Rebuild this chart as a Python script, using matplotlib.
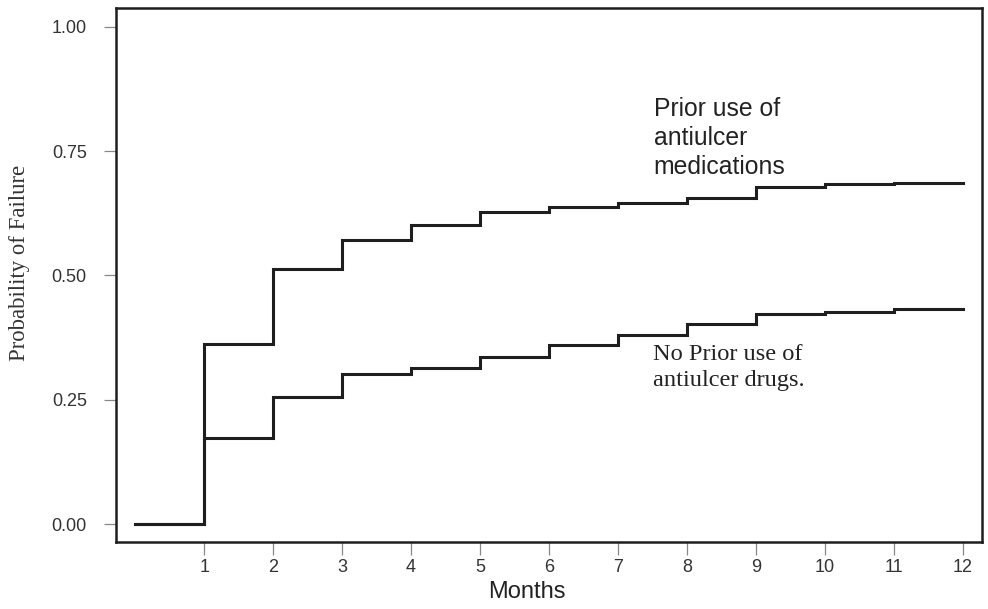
import numpy as np
import matplotlib
matplotlib.use("Agg")
import matplotlib.pyplot as plt

# cumulative probability of failure per monthly interval (0-1, 1-2, ..., 11-12)
months = np.arange(0, 13)
prior_use = [0.0, 0.362, 0.512, 0.571, 0.602, 0.628, 0.637, 0.645, 0.656, 0.678, 0.683, 0.685]
no_prior_use = [0.0, 0.174, 0.256, 0.302, 0.313, 0.337, 0.360, 0.381, 0.402, 0.422, 0.426, 0.432]

x_ticks = list(range(1, 13))
y_ticks = [0.0, 0.25, 0.5, 0.75, 1.0]
y_tick_labels = ["0.00", "0.25", "0.50", "0.75", "1.00"]

LINE = "#1e1e1e"
SANS = "Liberation Sans"
SERIF = "Liberation Serif"

fig = plt.figure(figsize=(9.88, 6.09), dpi=100)
ax = fig.add_axes([0.1174, 0.110, 0.8765, 0.877])

# steps-post: each value holds until the next month, last one runs to month 12
ax.step(months, prior_use + [prior_use[-1]], where="post", color=LINE, lw=2.2, solid_joinstyle="miter")
ax.step(months, no_prior_use + [no_prior_use[-1]], where="post", color=LINE, lw=2.2, solid_joinstyle="miter")

ax.set_xlim(-0.28, 12.28)
ax.set_ylim(-0.036, 1.038)

ax.set_xticks(x_ticks)
ax.set_xticklabels([str(m) for m in x_ticks], fontfamily=SANS, fontsize=13, color="#333333")
ax.set_yticks(y_ticks)
ax.set_yticklabels(y_tick_labels, fontfamily=SANS, fontsize=13, color="#333333")
ax.tick_params(axis="both", direction="out", length=9, width=0.9, color="#888888")
ax.tick_params(axis="x", pad=3.5)
ax.tick_params(axis="y", pad=12)

for sp in ax.spines.values():
    sp.set_linewidth(1.8)
    sp.set_color(LINE)

ax.text(7.52, 0.776, "Prior use of\nantiulcer\nmedications", ha="left", va="center",
        fontfamily=SANS, fontsize=17.8, linespacing=1.25, color="#222222")
ax.text(7.51, 0.315, "No Prior use of\nantiulcer drugs.", ha="left", va="center",
        fontfamily=SERIF, fontsize=17.6, linespacing=1.28, color="#222222")

ax.text(0.4746, -0.094, "Months", transform=ax.transAxes, ha="center", va="center",
        fontfamily=SANS, fontsize=17, color="#222222")
ax.text(-0.112, 0.522, "Probability of Failure", transform=ax.transAxes, rotation=90,
        ha="center", va="center", fontfamily=SERIF, fontsize=16.4, color="#333333")

fig.savefig("out.png", dpi=100, facecolor="white")
